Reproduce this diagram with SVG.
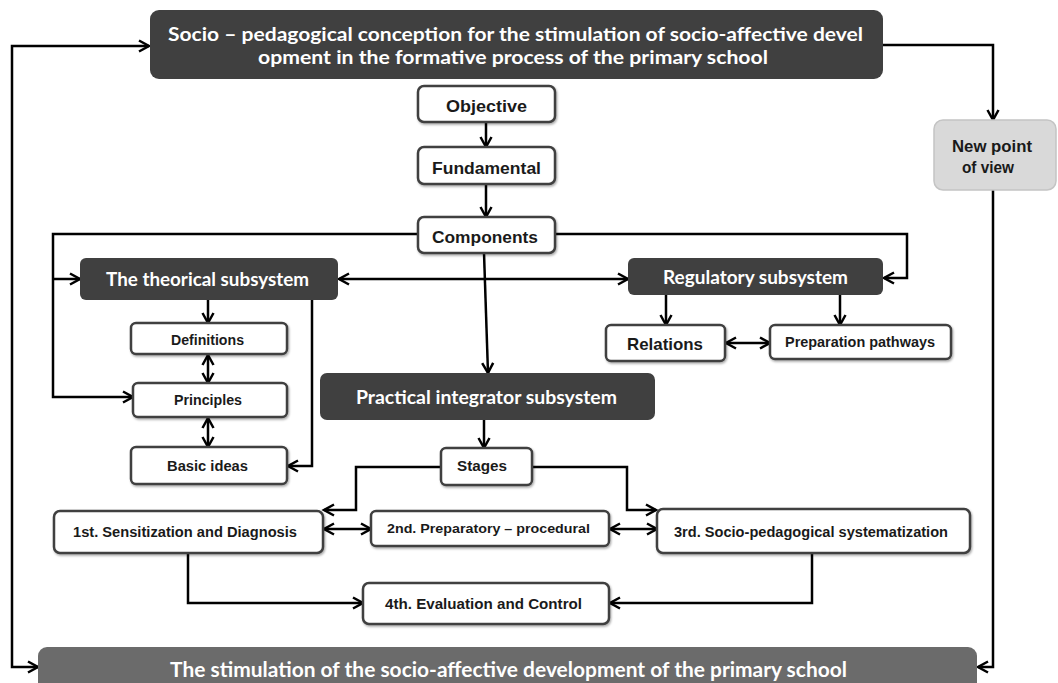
<svg xmlns="http://www.w3.org/2000/svg" width="1058" height="683" viewBox="0 0 1058 683">
<style>
.box{fill:#fff;stroke:#404040;stroke-width:2.5}
.dark{fill:#404040;stroke:none}
.mid{fill:#6b6b6b;stroke:none}
.light{fill:#d9d9d9;stroke:#c4c4c4;stroke-width:1.5}
.t{font-family:"Liberation Sans",Arial,sans-serif;font-weight:bold;fill:#1a1a1a;text-anchor:middle}
.w{font-family:Lato,"Liberation Sans",sans-serif;font-weight:bold;fill:#fff;text-anchor:middle}
.c{fill:none;stroke:#000;stroke-width:2.5;stroke-linejoin:miter}
</style>
<defs>
<marker id="ah" markerUnits="userSpaceOnUse" markerWidth="14" markerHeight="14" refX="11" refY="6" orient="auto-start-reverse" viewBox="0 0 14 12">
<path d="M1,0.5 L11,6 L1,11.5" fill="none" stroke="#000" stroke-width="2.5"/>
</marker>
<filter id="sh" x="-5%" y="-10%" width="110%" height="130%">
<feDropShadow dx="1" dy="1.5" stdDeviation="1" flood-color="#000" flood-opacity="0.35"/>
</filter>
</defs>

<g id="connectors">
<path class="c" d="M149,46 L12,46 L12,667 L38,667" marker-start="url(#ah)" marker-end="url(#ah)"/>
<path class="c" d="M883,45 L993,45 L993,120" marker-end="url(#ah)"/>
<path class="c" d="M993,190 L993,667 L978,667" marker-end="url(#ah)"/>
<path class="c" d="M486,122 L486,147" marker-end="url(#ah)"/>
<path class="c" d="M486,184 L486,217" marker-end="url(#ah)"/>
<path class="c" d="M418,234 L53,234 L53,397 L133,397" marker-end="url(#ah)"/>
<path class="c" d="M53,279 L80,279" marker-end="url(#ah)"/>
<path class="c" d="M555,234 L907,234 L907,278 L884,278" marker-end="url(#ah)"/>
<path class="c" d="M339,279 L628,279" marker-start="url(#ah)" marker-end="url(#ah)"/>
<path class="c" d="M484,253 L488,373" marker-end="url(#ah)"/>
<path class="c" d="M208,300 L208,323" marker-end="url(#ah)"/>
<path class="c" d="M208,355 L208,383" marker-start="url(#ah)" marker-end="url(#ah)"/>
<path class="c" d="M208,418 L208,447" marker-start="url(#ah)" marker-end="url(#ah)"/>
<path class="c" d="M312,300 L312,466 L288,466" marker-end="url(#ah)"/>
<path class="c" d="M666,295 L666,325" marker-end="url(#ah)"/>
<path class="c" d="M840,295 L840,325" marker-end="url(#ah)"/>
<path class="c" d="M726,343 L770,343" marker-start="url(#ah)" marker-end="url(#ah)"/>
<path class="c" d="M484,420 L484,448" marker-end="url(#ah)"/>
<path class="c" d="M441,467 L356,467 L356,510 L324,510" marker-end="url(#ah)"/>
<path class="c" d="M532,467 L627,467 L627,510 L656,510" marker-end="url(#ah)"/>
<path class="c" d="M324,529 L371,529" marker-start="url(#ah)" marker-end="url(#ah)"/>
<path class="c" d="M610,529 L657,529" marker-start="url(#ah)" marker-end="url(#ah)"/>
<path class="c" d="M188,553 L188,603 L363,603" marker-end="url(#ah)"/>
<path class="c" d="M812,553 L812,603 L610,603" marker-end="url(#ah)"/>
</g>

<g id="conception">
<rect class="dark" x="150" y="10" width="733" height="69" rx="9"/>
<text class="w" x="515.5" y="41" font-size="19.5" textLength="695" lengthAdjust="spacingAndGlyphs">Socio – pedagogical conception for the stimulation of socio-affective devel</text>
<text class="w" x="513" y="64" font-size="19.5" textLength="510" lengthAdjust="spacingAndGlyphs">opment in the formative process of the primary school</text>
</g>

<g id="newpoint">
<rect class="light" x="934" y="120" width="122" height="70" rx="9"/>
<text class="t" x="992" y="152" font-size="16" textLength="80" lengthAdjust="spacingAndGlyphs">New point</text>
<text class="t" x="988" y="173" font-size="16" textLength="52" lengthAdjust="spacingAndGlyphs">of view</text>
</g>

<g id="objective">
<rect class="box" x="418" y="86" width="137" height="36" rx="6" filter="url(#sh)"/>
<text class="t" x="486.5" y="112" font-size="17" textLength="81" lengthAdjust="spacingAndGlyphs">Objective</text>
</g>

<g id="fundamental">
<rect class="box" x="418" y="147" width="137" height="37" rx="6" filter="url(#sh)"/>
<text class="t" x="486.5" y="174" font-size="17" textLength="109" lengthAdjust="spacingAndGlyphs">Fundamental</text>
</g>

<g id="components">
<rect class="box" x="418" y="217" width="137" height="36" rx="6" filter="url(#sh)"/>
<text class="t" x="485" y="243" font-size="17" textLength="106" lengthAdjust="spacingAndGlyphs">Components</text>
</g>

<g id="theorical">
<rect class="dark" x="80" y="258" width="258" height="42" rx="6"/>
<text class="w" x="207.5" y="286" font-size="18.5" textLength="203" lengthAdjust="spacingAndGlyphs">The theorical subsystem</text>
</g>

<g id="regulatory">
<rect class="dark" x="628" y="258" width="255" height="37" rx="6"/>
<text class="w" x="755.5" y="284" font-size="18.5" textLength="185" lengthAdjust="spacingAndGlyphs">Regulatory subsystem</text>
</g>

<g id="definitions">
<rect class="box" x="131" y="323" width="156" height="31" rx="5" filter="url(#sh)"/>
<text class="t" x="207.5" y="345" font-size="14" textLength="73" lengthAdjust="spacingAndGlyphs">Definitions</text>
</g>

<g id="principles">
<rect class="box" x="133" y="383" width="154" height="34" rx="5" filter="url(#sh)"/>
<text class="t" x="208" y="405" font-size="14" textLength="68" lengthAdjust="spacingAndGlyphs">Principles</text>
</g>

<g id="basicideas">
<rect class="box" x="131" y="447" width="156" height="37" rx="5" filter="url(#sh)"/>
<text class="t" x="207.5" y="471" font-size="14.5" textLength="81" lengthAdjust="spacingAndGlyphs">Basic ideas</text>
</g>

<g id="relations">
<rect class="box" x="606" y="325" width="119" height="36" rx="5" filter="url(#sh)"/>
<text class="t" x="665" y="350" font-size="17" textLength="76" lengthAdjust="spacingAndGlyphs">Relations</text>
</g>

<g id="preparation">
<rect class="box" x="770" y="325" width="181" height="34" rx="5" filter="url(#sh)"/>
<text class="t" x="860" y="347" font-size="14" textLength="150" lengthAdjust="spacingAndGlyphs">Preparation pathways</text>
</g>

<g id="practical">
<rect class="dark" x="320" y="373" width="335" height="47" rx="7"/>
<text class="w" x="486.5" y="404" font-size="19" textLength="261" lengthAdjust="spacingAndGlyphs">Practical integrator subsystem</text>
</g>

<g id="stages">
<rect class="box" x="441" y="448" width="91" height="37" rx="5" filter="url(#sh)"/>
<text class="t" x="482" y="471" font-size="15" textLength="50" lengthAdjust="spacingAndGlyphs">Stages</text>
</g>

<g id="first">
<rect class="box" x="54" y="511" width="269" height="42" rx="6" filter="url(#sh)"/>
<text class="t" x="185" y="537" font-size="14.5" textLength="224" lengthAdjust="spacingAndGlyphs">1st. Sensitization and Diagnosis</text>
</g>

<g id="second">
<rect class="box" x="371" y="511" width="238" height="35" rx="5" filter="url(#sh)"/>
<text class="t" x="488.5" y="533" font-size="13.5" textLength="203" lengthAdjust="spacingAndGlyphs">2nd. Preparatory –  procedural</text>
</g>

<g id="third">
<rect class="box" x="657" y="509" width="313" height="44" rx="6" filter="url(#sh)"/>
<text class="t" x="811" y="537" font-size="14.5" textLength="274" lengthAdjust="spacingAndGlyphs">3rd. Socio-pedagogical systematization</text>
</g>

<g id="fourth">
<rect class="box" x="363" y="583" width="246" height="41" rx="6" filter="url(#sh)"/>
<text class="t" x="483.5" y="609" font-size="15" textLength="197" lengthAdjust="spacingAndGlyphs">4th. Evaluation and Control</text>
</g>

<g id="stimulation">
<rect class="mid" x="38" y="647" width="939" height="50" rx="9"/>
<text class="w" x="508.5" y="677" font-size="20" textLength="677" lengthAdjust="spacingAndGlyphs">The stimulation of the socio-affective development of the primary school</text>
</g>
</svg>
